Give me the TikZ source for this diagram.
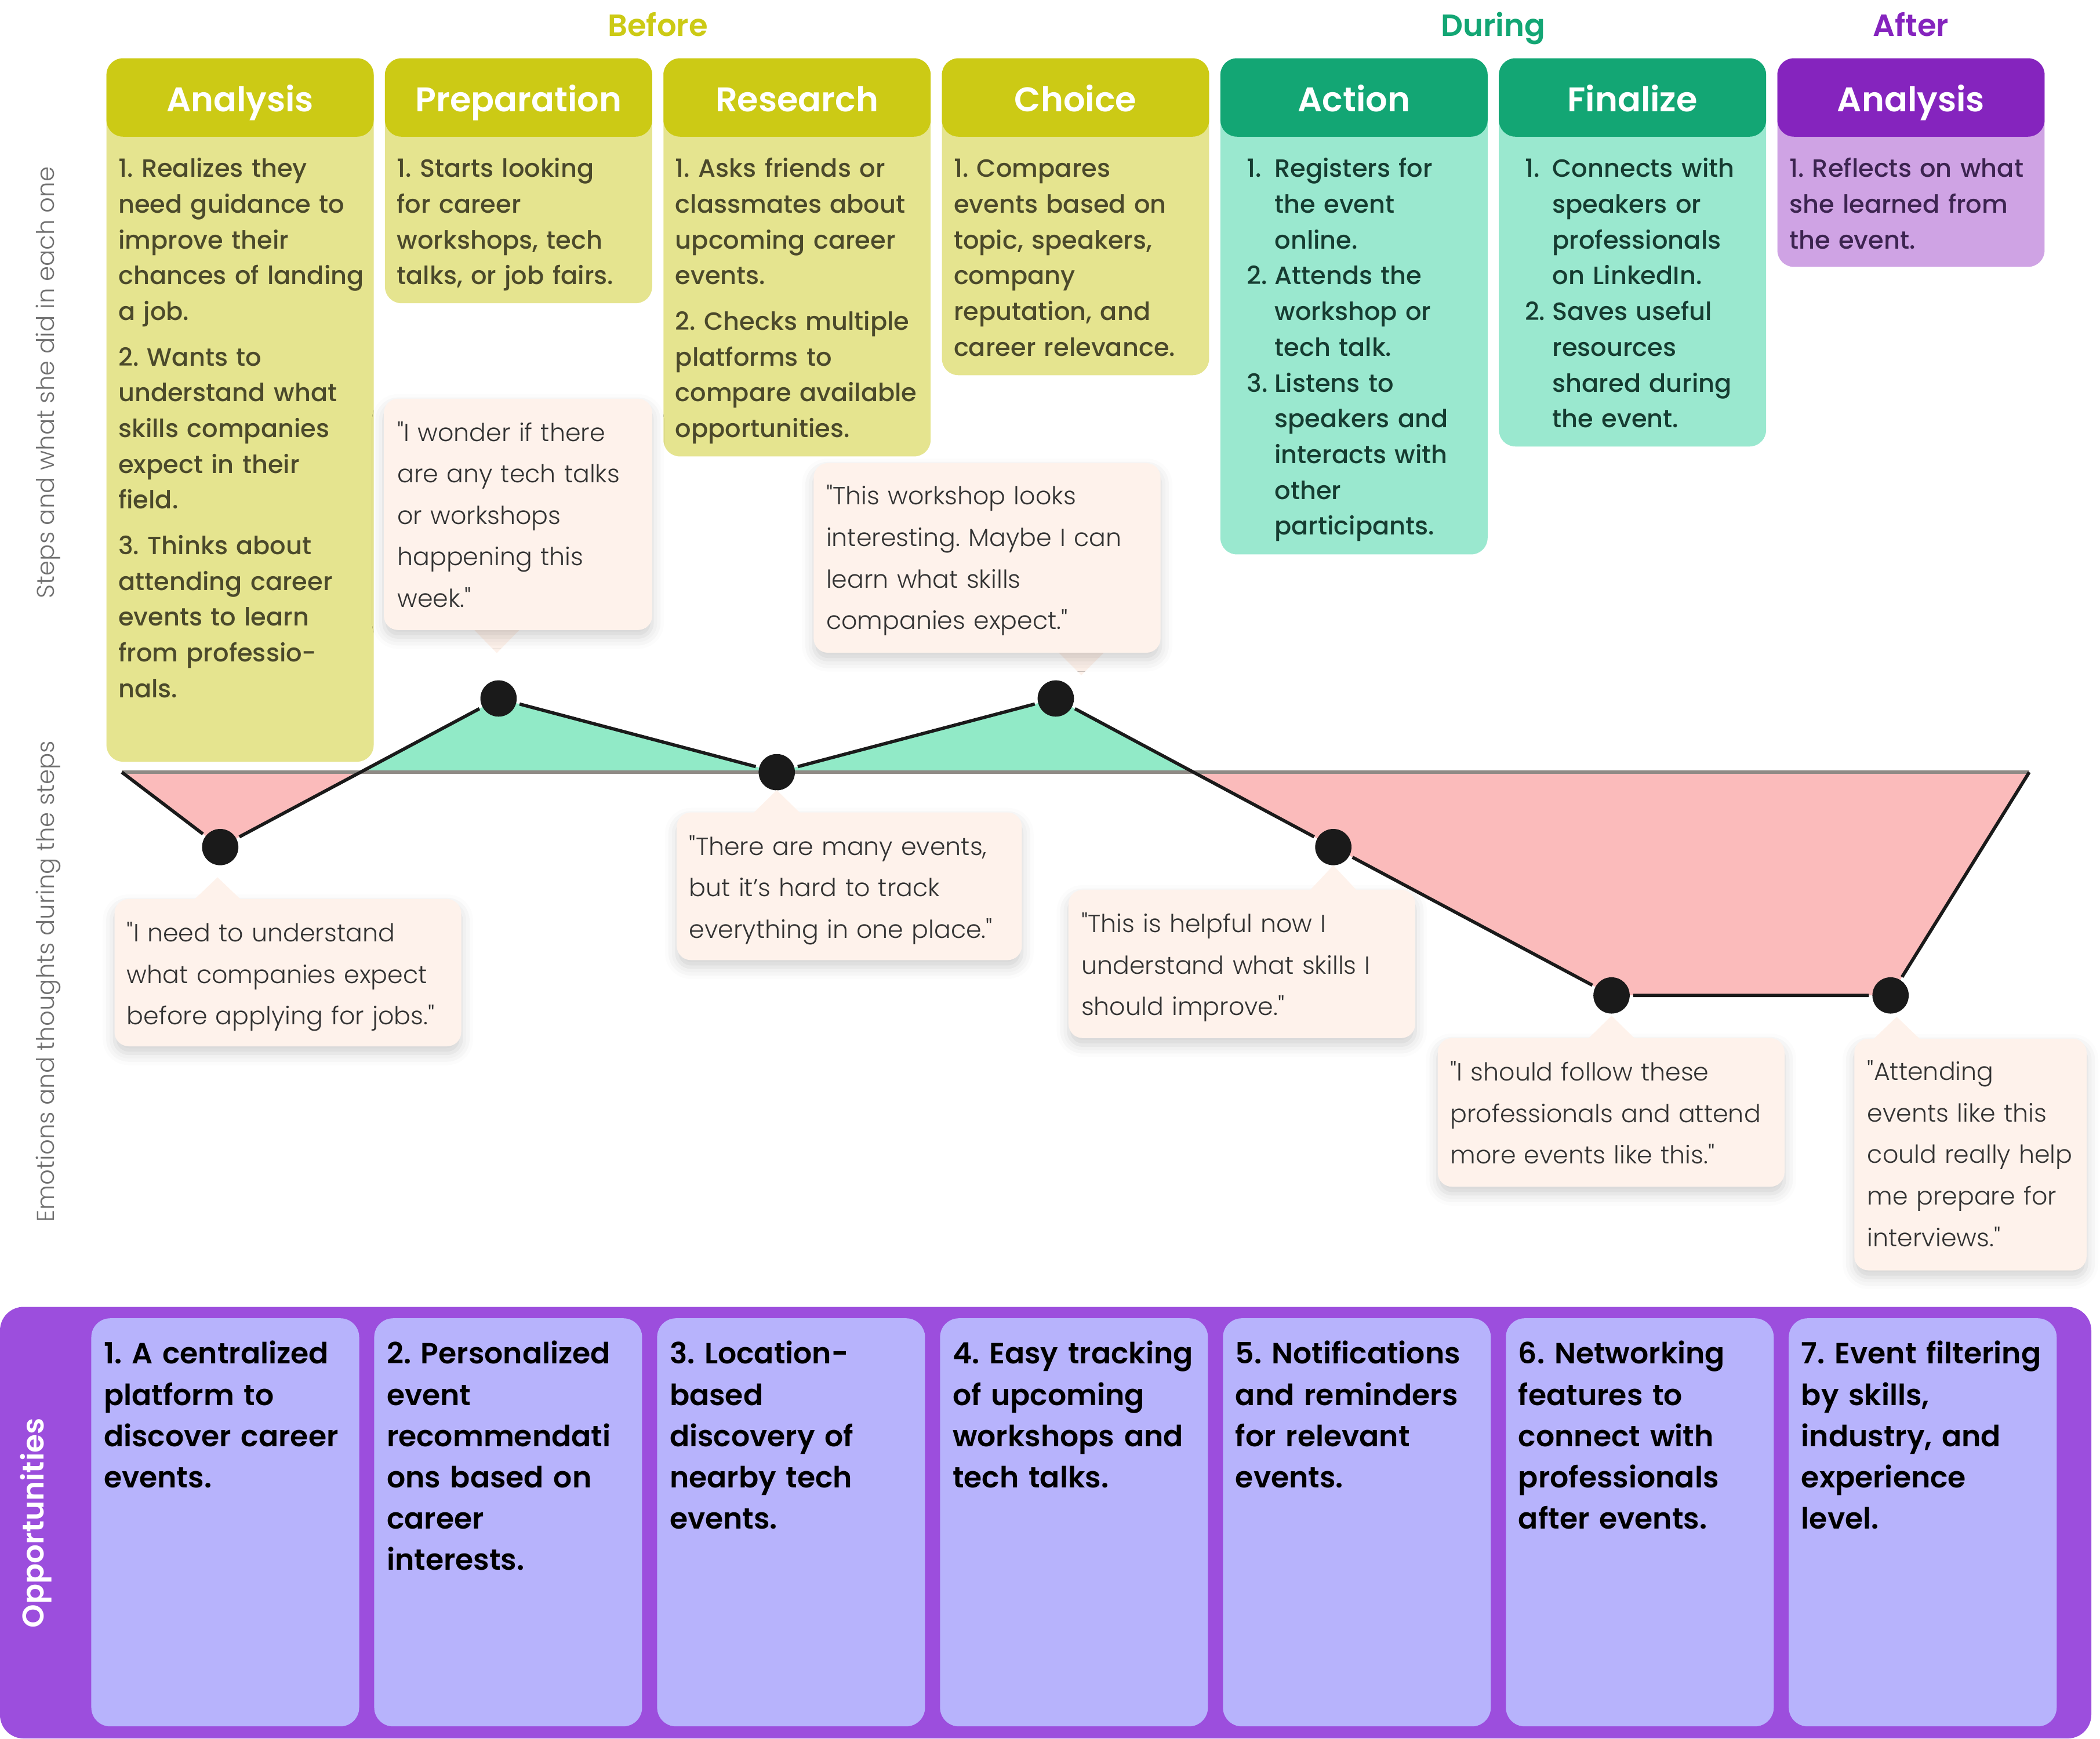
\documentclass[tikz,border=0pt]{standalone}
\usepackage{fontspec}
\setmainfont{Poppins}
\newfontfamily\poplight{Poppins Light}
\newfontfamily\popmedium{Poppins Medium}
\newfontfamily\popsemi{Poppins SemiBold}
\usetikzlibrary{shadows.blur}

\definecolor{headyellow}{HTML}{CCCA15}
\definecolor{bodyyellow}{HTML}{E5E48F}
\definecolor{headgreen}{HTML}{13A674}
\definecolor{bodygreen}{HTML}{9AE8CF}
\definecolor{headpurple}{HTML}{8524BE}
\definecolor{bodypurple}{HTML}{CFA3E4}
\definecolor{txtyellow}{HTML}{4B492B}
\definecolor{txtgreen}{HTML}{163C31}
\definecolor{txtpurple}{HTML}{3C2450}
\definecolor{bubblefill}{HTML}{FEF2EB}
\definecolor{quotegray}{HTML}{333333}
\definecolor{uparea}{HTML}{91EAC7}
\definecolor{downarea}{HTML}{FBBBBB}
\definecolor{zerogray}{HTML}{8F8A85}
\definecolor{dotblack}{HTML}{1A1A1A}
\definecolor{oppbg}{HTML}{9C4EDD}
\definecolor{cardblue}{HTML}{B7B3FC}
\definecolor{labelgray}{HTML}{707070}

\newcommand{\itemno}[1]{\makebox[11.7pt][l]{#1}}
\newcommand{\itemind}{\hspace*{11.7pt}}

\tikzset{
  phaselabel/.style={anchor=base, inner sep=0pt, font=\popsemi\fontsize{13}{15}\selectfont},
  headbox/.style={rounded corners=7pt},
  headtext/.style={anchor=base, inner sep=0pt, text=white, font=\popsemi\fontsize{14.5}{17}\selectfont},
  steptext/.style={anchor=base west, inner sep=0pt, text width=120pt, align=left,
    font=\popmedium\fontsize{10.6}{15.17}\selectfont},
  bubble/.style={fill=bubblefill, rounded corners=6pt,
    blur shadow={shadow xshift=0pt, shadow yshift=-3pt, shadow blur radius=5pt, shadow opacity=18}},
  quotetext/.style={anchor=base west, inner sep=0pt, text width=150pt, align=left, text=quotegray,
    font=\poplight\fontsize{10.5}{17.6}\selectfont},
  emodot/.style={circle, fill=dotblack, minimum size=15.4pt, inner sep=0pt, outer sep=1.5pt},
  emoline/.style={draw=dotblack, line width=1.4pt},
  zeroline/.style={draw=zerogray, line width=1.5pt},
  oppcard/.style={fill=cardblue, rounded corners=8pt},
  opptext/.style={anchor=base west, inner sep=0pt, text width=120pt, align=left,
    font=\popsemi\fontsize{12.4}{17.5}\selectfont},
  sidelabel/.style={text=labelgray, inner sep=0pt, rotate=90, font=\poplight\fontsize{10.3}{12}\selectfont},
}

\begin{document}
\frenchspacing
\begin{tikzpicture}[x=0.02cm,y=-0.02cm]
    \useasboundingbox (0,0) rectangle (1564,1295);

    % phases
    \node[phaselabel, text=headyellow] (before) at (489.9,27) {Before};
    \node[phaselabel, text=headgreen] (during) at (1112.1,27) {During};
    \node[phaselabel, text=headpurple] (after) at (1423.2,27) {After};

    % side labels
    \node[sidelabel] (lblsteps) at (36,285) {Steps and what she did in each one};
    \node[sidelabel] (lblemo) at (36,731) {Emotions and thoughts during the steps};

    % step columns
    \fill[bodyyellow, headbox] (79.3,43.4) rectangle (278.3,567.4);
    \fill[bodyyellow, headbox] (286.7,43.4) rectangle (485.7,225.9);
    \fill[bodyyellow, headbox] (494.1,43.4) rectangle (693.1,340);
    \fill[bodyyellow, headbox] (701.5,43.4) rectangle (900.5,279.5);
    \fill[bodygreen, headbox] (908.9,43.4) rectangle (1107.9,413);
    \fill[bodygreen, headbox] (1116.3,43.4) rectangle (1315.3,332.6);
    \fill[bodypurple, headbox] (1323.7,43.4) rectangle (1522.7,198.8);

    \fill[headyellow, headbox] (79.3,43.4) rectangle (278.3,101.8);
    \fill[headyellow, headbox] (286.7,43.4) rectangle (485.7,101.8);
    \fill[headyellow, headbox] (494.1,43.4) rectangle (693.1,101.8);
    \fill[headyellow, headbox] (701.5,43.4) rectangle (900.5,101.8);
    \fill[headgreen, headbox] (908.9,43.4) rectangle (1107.9,101.8);
    \fill[headgreen, headbox] (1116.3,43.4) rectangle (1315.3,101.8);
    \fill[headpurple, headbox] (1323.7,43.4) rectangle (1522.7,101.8);

    \node[headtext] (h1) at (178.8,83) {Analysis};
    \node[headtext] (h2) at (386.2,83) {Preparation};
    \node[headtext] (h3) at (593.6,83) {Research};
    \node[headtext] (h4) at (801,83) {Choice};
    \node[headtext] (h5) at (1008.4,83) {Action};
    \node[headtext] (h6) at (1215.8,83) {Finalize};
    \node[headtext] (h7) at (1423.2,83) {Analysis};

    \node[steptext, text=txtyellow] (s1) at (87.8,132) {1. Realizes they\\need guidance to\\improve their\\chances of landing\\a job.\\[4.1pt]
      2. Wants to\\understand what\\skills companies\\expect in their\\field.\\[4.1pt]
      3. Thinks about\\attending career\\events to learn\\from professio-\\nals.};
    \node[steptext, text=txtyellow] (s2) at (295.2,132) {1. Starts looking\\for career\\workshops, tech\\talks, or job fairs.};
    \node[steptext, text=txtyellow] (s3) at (502.6,132) {1. Asks friends or\\classmates about\\upcoming career\\events.\\[4.1pt]
      2. Checks multiple\\platforms to\\compare available\\opportunities.};
    \node[steptext, text=txtyellow] (s4) at (710,132) {1. Compares\\events based on\\topic, speakers,\\company\\reputation, and\\career relevance.};
    \node[steptext, text=txtgreen] (s5) at (928.4,132) {\itemno{1.}Registers for\\\itemind the event\\\itemind online.\\
      \itemno{2.}Attends the\\\itemind workshop or\\\itemind tech talk.\\
      \itemno{3.}Listens to\\\itemind speakers and\\\itemind interacts with\\\itemind other\\\itemind participants.};
    \node[steptext, text=txtgreen] (s6) at (1135.3,132) {\itemno{1.}Connects with\\\itemind speakers or\\\itemind professionals\\\itemind on LinkedIn.\\
      \itemno{2.}Saves useful\\\itemind resources\\\itemind shared during\\\itemind the event.};
    \node[steptext, text=txtpurple] (s7) at (1332.2,132) {1. Reflects on what\\she learned from\\the event.};

    % emotion curve
    \coordinate (es) at (90.7,575.2);
    \coordinate (ee) at (1511.3,575.2);
    \coordinate (p1) at (164,631);
    \coordinate (p2) at (371.3,520.3);
    \coordinate (p3) at (578.5,575.2);
    \coordinate (p4) at (786.3,520.3);
    \coordinate (p5) at (993,631);
    \coordinate (p6) at (1200.2,741.5);
    \coordinate (p7) at (1408,741.5);
    \begin{scope}
        \clip (0,0) rectangle (1564,575.2);
        \fill[uparea] (es) -- (p1) -- (p2) -- (p3) -- (p4) -- (p5) -- (p6) -- (p7) -- (ee) -- cycle;
    \end{scope}
    \begin{scope}
        \clip (0,575.2) rectangle (1564,960);
        \fill[downarea] (es) -- (p1) -- (p2) -- (p3) -- (p4) -- (p5) -- (p6) -- (p7) -- (ee) -- cycle;
    \end{scope}
    \draw[zeroline] (es) -- (ee);
    \node[emodot] (e1) at (p1) {};
    \node[emodot] (e2) at (p2) {};
    \node[emodot] (e3) at (p3) {};
    \node[emodot] (e4) at (p4) {};
    \node[emodot] (e5) at (p5) {};
    \node[emodot] (e6) at (p6) {};
    \node[emodot] (e7) at (p7) {};
    \draw[emoline] (es) -- (e1) -- (e2) -- (e3) -- (e4) -- (e5) -- (e6) -- (e7) -- (ee);

    % thought bubbles
    \fill[bubblefill] (370,486.5) -- (352,468) -- (388,468) -- cycle;
    \fill[bubblefill] (805.3,503) -- (787.3,485) -- (823.3,485) -- cycle;
    \fill[bubble] (85.3,669.7) rectangle (343.5,779.4);
    \fill[bubble] (285.9,297) rectangle (485.7,469.3);
    \fill[bubble] (504,605.2) rectangle (761,715.2);
    \fill[bubble] (606,345) rectangle (864.3,486.2);
    \fill[bubble] (795.8,662.8) rectangle (1054,773.3);
    \fill[bubble] (1070.8,773.3) rectangle (1329,884);
    \fill[bubble] (1381,773.7) rectangle (1554,946.3);
    \fill[bubblefill] (162,653.5) -- (144,670.7) -- (180,670.7) -- cycle;
    \fill[bubblefill] (578.5,588.6) -- (560.5,606.2) -- (596.5,606.2) -- cycle;
    \fill[bubblefill] (993,644.6) -- (975,663.8) -- (1011,663.8) -- cycle;
    \fill[bubblefill] (1200.2,756.6) -- (1182.2,774.3) -- (1218.2,774.3) -- cycle;
    \fill[bubblefill] (1412.6,757.4) -- (1394.6,774.7) -- (1430.6,774.7) -- cycle;

    \node[quotetext] (q1) at (94.2,701.5) {"I need to understand\\what companies expect\\before applying for jobs."};
    \node[quotetext] (q2) at (295.6,328.6) {"I wonder if there\\are any tech talks\\or workshops\\happening this\\week."};
    \node[quotetext] (q3) at (513,637) {"There are many events,\\but it’s hard to track\\everything in one place."};
    \node[quotetext] (q4) at (615,376) {"This workshop looks\\interesting. Maybe I can\\learn what skills\\companies expect."};
    \node[quotetext] (q5) at (805,694.6) {"This is helpful now I\\understand what skills I\\should improve."};
    \node[quotetext] (q6) at (1079.8,805.1) {"I should follow these\\professionals and attend\\more events like this."};
    \node[quotetext] (q7) at (1390.4,804.7) {"Attending\\events like this\\could really help\\me prepare for\\interviews."};

    % opportunities
    \fill[oppbg, rounded corners=10pt] (0,973.5) rectangle (1557.5,1295);
    \node[text=white, inner sep=0pt, rotate=90, font=\popsemi\fontsize{12.7}{15}\selectfont] (opplabel) at (27,1134.5) {Opportunities};
    \fill[oppcard] (68,982) rectangle (267.5,1286);
    \fill[oppcard] (278.7,982) rectangle (478.2,1286);
    \fill[oppcard] (489.4,982) rectangle (688.9,1286);
    \fill[oppcard] (700.1,982) rectangle (899.6,1286);
    \fill[oppcard] (910.8,982) rectangle (1110.3,1286);
    \fill[oppcard] (1121.5,982) rectangle (1321,1286);
    \fill[oppcard] (1332.2,982) rectangle (1531.7,1286);
    \node[opptext] (o1) at (77,1016) {1. A centralized\\platform to\\discover career\\events.};
    \node[opptext] (o2) at (287.7,1016) {2. Personalized\\event\\recommendati\\ons based on\\career\\interests.};
    \node[opptext] (o3) at (498.4,1016) {3. Location-\\based\\discovery of\\nearby tech\\events.};
    \node[opptext] (o4) at (709.1,1016) {4. Easy tracking\\of upcoming\\workshops and\\tech talks.};
    \node[opptext] (o5) at (919.8,1016) {5. Notifications\\and reminders\\for relevant\\events.};
    \node[opptext] (o6) at (1130.5,1016) {6. Networking\\features to\\connect with\\professionals\\after events.};
    \node[opptext] (o7) at (1341.2,1016) {7. Event filtering\\by skills,\\industry, and\\experience\\level.};
\end{tikzpicture}
\end{document}
